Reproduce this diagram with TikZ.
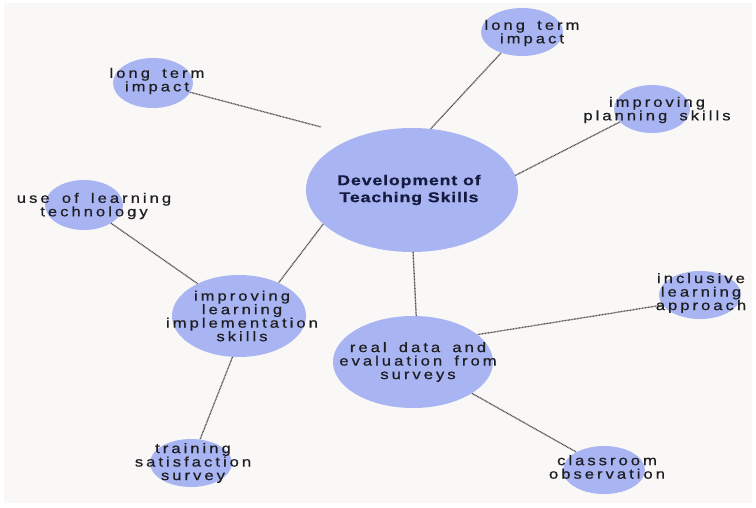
\documentclass[tikz,border=0pt]{standalone}
\usepackage{fontspec}
\setmainfont{Liberation Sans}
\newfontfamily\lblfont{Liberation Sans}[FakeStretch=1.2,LetterSpace=22,WordSpace=1.6,FakeBold=0.7]
\newfontfamily\ctrfont{Liberation Sans}[FakeStretch=1.25,LetterSpace=6,FakeBold=0.6]
\usetikzlibrary{shapes.geometric}
\definecolor{bubble}{HTML}{A9B5F2}
\definecolor{bgc}{HTML}{F9F8F6}
\definecolor{txt}{HTML}{1E1E22}
\definecolor{navy}{HTML}{161A40}
\definecolor{lnc}{HTML}{505050}
\tikzset{
  bub/.style={ellipse, fill=bubble, draw=none, inner sep=0pt},
  lbl/.style={align=center, text=txt, inner sep=0pt, font=\lblfont\fontsize{13.8}{13.5}\selectfont},
  ctr/.style={align=center, text=navy, inner sep=0pt, font=\ctrfont\bfseries\fontsize{14.2}{17}\selectfont},
  conn/.style={draw=lnc, line width=1.3pt, dash pattern=on 0.9pt off 0.6pt}
}
\begin{document}
\begin{tikzpicture}[x=1pt,y=-1pt]
\useasboundingbox (0,0) rectangle (756,508);
\fill[white] (0,0) rectangle (756,508);
\fill[bgc] (4,3) rectangle (752,503);
% bubbles
\node[bub, minimum width=212pt, minimum height=124pt] (C) at (412,190) {};
\node[bub, minimum width=80pt, minimum height=50pt] (TL) at (153,83) {};
\node[bub, minimum width=82pt, minimum height=48pt] (TR) at (522,32) {};
\node[bub, minimum width=76pt, minimum height=48pt] (P) at (652,109) {};
\node[bub, minimum width=78pt, minimum height=50pt] (U) at (84,205) {};
\node[bub, minimum width=134pt, minimum height=82pt] (IL) at (239,316) {};
\node[bub, minimum width=82pt, minimum height=48pt] (T) at (191,463) {};
\node[bub, minimum width=160pt, minimum height=92pt] (R) at (413,362) {};
\node[bub, minimum width=82pt, minimum height=48pt] (I) at (700,295) {};
\node[bub, minimum width=82pt, minimum height=48pt] (CO) at (604,470) {};
\coordinate (TLend) at (321,127);
% connectors
\draw[conn] (TL.-14) -- (TLend);
\draw[conn] (C.73) -- (TR.225);
\draw[conn] (C.8) -- (P.202);
\draw[conn] (C.201) -- (IL.40);
\draw[conn] (U.-34) -- (IL.142);
\draw[conn] (IL.261) -- (T.69);
\draw[conn] (C.271) -- (R.86);
\draw[conn] (R.23) -- (I.195);
\draw[conn] (R.-28) -- (CO.147);
% texts
\node[ctr] (Ct) at (409,190) {Development of\\Teaching Skills};
\node[lbl] (TLt) at (157,81) {long term\\impact};
\node[lbl] (TRt) at (532,33) {long term\\impact};
\node[lbl] (Pt) at (657,110) {improving\\planning skills};
\node[lbl] (Ut) at (94,206) {use of learning\\technology};
\node[lbl] (ILt) at (242,316) {improving\\learning\\implementation\\skills};
\node[lbl] (Tt) at (193,463) {training\\satisfaction\\survey};
\node[lbl] (Rt) at (418,362) {real data and\\evaluation from\\surveys};
\node[lbl] (It) at (701,293) {inclusive\\learning\\approach};
\node[lbl] (COt) at (607,467) {classroom\\observation};
\end{tikzpicture}
\end{document}
